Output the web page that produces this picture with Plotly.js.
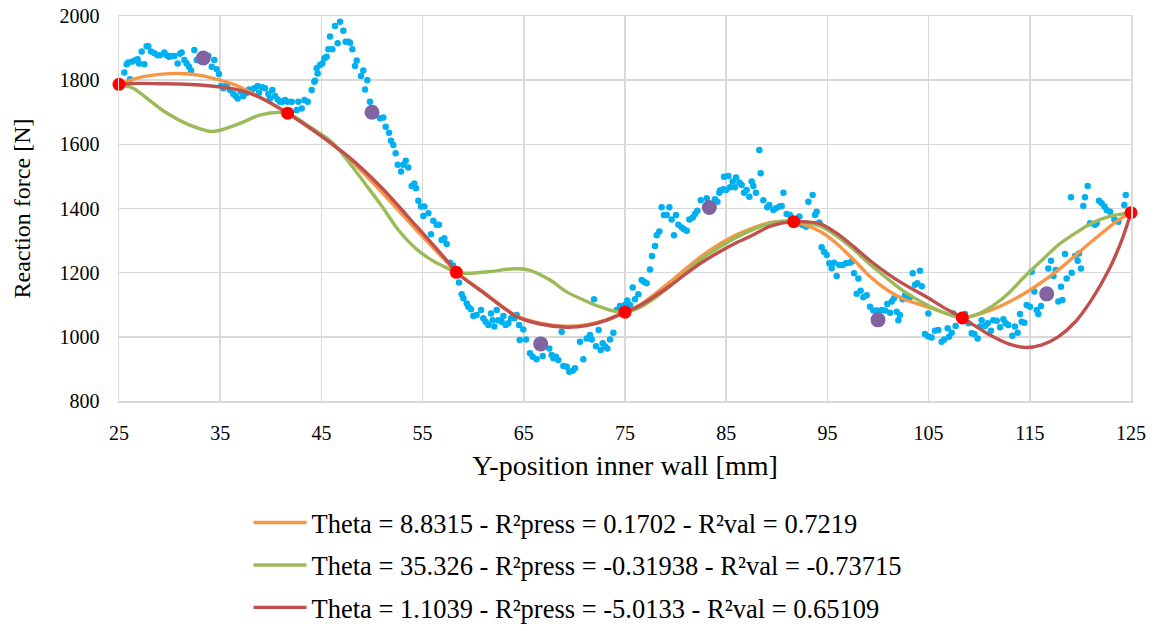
<!DOCTYPE html>
<html>
<head>
<meta charset="utf-8">
<script src="https://cdn.plot.ly/plotly-3.0.1.min.js"></script>
<style>html,body{margin:0;padding:0;background:#fff;}#chart{width:1159px;height:631px;}</style>
</head>
<body>
<div id="chart"></div>
<script>
// Measured reaction force (blue points)
const measX = [25.53,25.76,25.92,26.09,26.32,26.65,26.84,26.98,27.24,27.50,27.73,27.90,28.16,28.49,28.82,29.05,29.48,29.71,29.94,30.20,30.47,30.80,31.03,31.19,31.46,31.69,31.92,32.12,32.44,32.68,33.83,34.16,34.42,34.65,34.88,35.08,35.31,35.64,35.97,36.30,36.53,36.73,37.06,37.29,37.62,37.85,38.11,38.37,38.70,38.84,39.16,39.43,39.76,39.92,40.15,40.42,40.68,40.91,41.14,41.40,41.67,42.06,42.56,42.72,43.05,43.32,43.65,44.04,44.30,44.37,44.53,44.63,44.86,45.09,45.29,45.52,45.69,45.85,46.08,46.34,46.61,46.84,47.17,47.40,47.66,47.83,48.06,48.32,48.49,48.91,49.14,49.31,49.54,49.80,50.79,51.12,51.35,51.68,51.88,52.11,52.34,52.54,52.87,53.10,53.33,53.59,53.92,54.18,54.35,54.58,54.84,55.07,55.17,55.57,55.83,56.06,56.39,56.62,56.88,57.15,57.38,57.71,58.00,58.60,58.86,59.03,59.36,59.52,59.78,60.01,60.34,60.77,61.00,61.23,61.50,61.76,61.92,62.09,62.32,62.48,62.81,62.98,63.21,63.47,63.74,64.07,64.30,64.53,64.60,64.95,65.22,65.61,65.88,66.27,66.87,67.52,67.75,67.92,68.18,68.41,68.74,68.91,69.24,69.50,69.83,70.06,70.55,70.88,71.21,71.54,71.71,71.94,72.13,72.40,72.60,72.79,73.02,73.26,73.52,73.85,74.18,74.51,75.00,75.23,75.50,75.76,75.99,76.32,76.65,76.88,77.14,77.47,77.67,77.97,78.13,78.39,78.62,78.85,79.12,79.38,79.61,79.84,80.04,80.27,80.60,80.83,81.10,81.36,81.69,81.92,82.15,82.48,83.07,83.89,84.13,84.32,84.39,84.72,84.78,84.98,85.21,85.38,85.64,85.87,85.97,86.30,86.53,86.76,87.02,87.29,87.52,87.68,87.94,88.27,88.41,88.67,89.06,89.26,89.66,89.92,90.25,90.48,90.65,90.97,91.30,92.23,92.46,92.89,93.12,93.54,93.78,93.94,94.20,94.43,94.66,94.93,95.19,95.42,95.65,95.92,96.18,96.51,96.84,97.17,97.40,97.63,97.89,98.06,98.29,98.55,98.88,99.21,99.54,99.87,100.36,100.69,100.92,101.19,101.35,101.58,101.85,102.01,102.17,102.44,102.67,102.90,103.16,103.43,103.66,103.89,104.15,104.32,104.64,104.97,104.97,105.30,105.63,105.96,106.29,106.55,106.88,107.02,107.28,107.44,107.67,108.60,108.93,109.26,109.52,109.85,110.08,110.24,110.57,110.84,111.17,111.40,111.73,112.06,112.39,112.62,112.88,113.27,113.54,113.80,114.03,114.20,114.46,114.69,115.02,115.19,115.45,115.68,115.84,116.11,116.83,117.10,117.33,117.56,117.82,118.08,118.22,118.48,118.64,119.07,119.14,119.47,119.73,119.86,120.06,120.29,120.45,120.72,120.95,121.44,121.61,121.84,122.10,122.37,122.60,122.93,123.36,123.75,124.34,124.48];
const measY = [1824,1850,1855,1803,1858,1863,1865,1852,1889,1850,1906,1906,1889,1884,1878,1878,1886,1878,1873,1875,1875,1852,1882,1886,1863,1852,1842,1830,1894,1863,1875,1842,1863,1834,1819,1782,1775,1785,1769,1757,1751,1743,1764,1751,1761,1771,1769,1775,1782,1761,1778,1775,1757,1743,1769,1751,1740,1733,1733,1738,1733,1733,1707,1733,1712,1738,1733,1769,1795,1798,1837,1821,1847,1852,1868,1873,1896,1936,1896,1969,1915,1982,1954,1920,1920,1917,1896,1844,1861,1813,1830,1771,1800,1733,1681,1684,1655,1636,1611,1598,1572,1536,1515,1536,1549,1528,1470,1478,1463,1424,1406,1377,1406,1385,1320,1362,1349,1349,1302,1307,1289,1231,1222,1169,1133,1120,1104,1094,1086,1065,1068,1084,1058,1047,1037,1073,1052,1032,1084,1052,1047,1065,1037,1042,1058,1058,1068,1037,990,1023,992,949,938,930,940,964,943,933,938,928,1016,909,907,891,894,902,985,930,995,1006,992,1117,971,1021,959,980,971,964,992,1013,1084,1096,1099,1113,1099,1154,1117,1133,1177,1172,1167,1210,1252,1283,1317,1328,1404,1380,1380,1404,1366,1317,1380,1349,1341,1335,1331,1366,1372,1383,1393,1426,1432,1429,1421,1449,1456,1460,1499,1458,1501,1466,1484,1466,1497,1481,1473,1449,1458,1437,1484,1470,1449,1582,1510,1426,1404,1411,1395,1401,1406,1408,1449,1383,1380,1375,1349,1343,1421,1442,1380,1390,1356,1279,1265,1255,1229,1214,1231,1190,1224,1224,1229,1231,1234,1198,1134,1182,1144,1123,1130,1094,1082,1082,1084,1082,1102,1075,1110,1120,1078,1052,1068,1117,1130,1123,1123,1198,1162,1167,1206,1158,1009,1001,1073,998,1019,1021,985,992,1027,1000,1013,1073,1034,1071,1042,1011,1009,995,1032,1052,1034,1042,1019,1052,1050,1030,1055,1042,1037,1003,1032,1013,1071,1047,1044,1099,1094,1203,1141,1084,1071,1096,1213,1237,1190,1208,1110,1156,1115,1258,1182,1435,1200,1252,1237,1260,1213,1408,1435,1470,1354,1349,1354,1424,1416,1406,1395,1390,1366,1359,1411,1442];

// Training points (red) and validation points (purple)
const trainX = [25, 41.667, 58.333, 75, 91.667, 108.333, 125];
const trainY = [1787, 1697, 1201, 1077, 1359, 1059, 1387];
const valX = [33.333, 50, 66.667, 83.333, 100, 116.667];
const valY = [1869, 1700, 978, 1403, 1053, 1134];

// Kriging curves
const orangeX = [25,27,29,31,33,35,37,39,41.667,44.4,47.7,51,54.3,57.5,58.333,61,64.3,66.6,69.2,71.2,73.2,75,76.5,78,79.5,81,82.5,84.4,86,87.7,89.3,91.667,94.3,95.9,97.6,99.2,100.9,102.5,104.6,106.3,108.333,111.2,114.5,117.8,121.1,123.75,125];
const orangeY = [1787,1808,1818,1821,1815,1800,1778,1745,1697,1640,1556,1450,1336,1229,1201,1140,1065,1043,1033,1038,1054,1077,1100,1135,1172,1212,1250,1290,1318,1340,1356,1360,1328,1291,1240,1188,1146,1118,1096,1078,1060,1084,1136,1208,1297,1364,1387];
const greenX = [25,26.4,27.9,29.6,32,34.3,37,38.9,40.9,41.667,43.5,46,47.7,49.3,51,52.6,54.3,55.9,57.5,58.333,59.5,61.5,64,65.5,67.6,69.2,70.9,72.5,73.8,75,76.5,78,79.5,81,82.5,84.4,86,87.7,89.3,91.667,94.3,95.9,97.6,99.2,100.9,102.5,104.6,106.3,108.333,109.6,111.2,112.9,114.5,116.2,117.8,119.5,121.1,122.8,125];
const greenY = [1787,1775,1740,1700,1660,1640,1666,1691,1700,1697,1662,1608,1545,1478,1406,1333,1276,1239,1213,1201,1198,1203,1212,1208,1177,1141,1115,1094,1081,1077,1092,1122,1160,1200,1242,1281,1310,1335,1354,1360,1345,1315,1272,1226,1182,1143,1103,1078,1059,1068,1094,1136,1188,1239,1286,1323,1354,1375,1387];
const redX = [25,27,29,31,33,35,37,39,41.667,44.4,47.7,51,54.3,57.5,58.333,61,64.3,66.6,69.2,71.2,73.2,75,76.5,78,79.5,81,82.5,84.4,86,87.7,89.3,91.667,94.3,95.9,97.6,99.2,100.9,102.5,104.6,106.3,108.333,109.6,111.2,112.9,114.5,116.2,117.8,119.5,121.1,122.8,124.1,125];
const redY = [1787,1790,1789,1788,1785,1779,1768,1745,1697,1639,1561,1463,1348,1234,1201,1138,1063,1040,1030,1035,1052,1077,1098,1128,1160,1196,1230,1266,1293,1318,1344,1359,1352,1323,1281,1238,1198,1165,1128,1095,1059,1034,1003,978,967,975,1000,1047,1115,1208,1302,1387];

const legendNames = [
  'Theta = 8.8315 - R²press = 0.1702 - R²val = 0.7219',
  'Theta = 35.326 - R²press = -0.31938 - R²val = -0.73715',
  'Theta = 1.1039 - R²press = -5.0133 - R²val = 0.65109'
];
const xTicks = [25,35,45,55,65,75,85,95,105,115,125];
const yTicks = [800,1000,1200,1400,1600,1800,2000];

const FONT = 'Liberation Serif';

const traces = [
  {x: measX, y: measY, type: 'scatter', mode: 'markers', showlegend: false,
   marker: {color: '#00B0F0', size: 6.5}},
  {x: orangeX, y: orangeY, type: 'scatter', mode: 'lines', name: legendNames[0], legendgroup: 'a',
   line: {color: '#F79646', width: 3.4, shape: 'spline', smoothing: 0.8}},
  {x: greenX, y: greenY, type: 'scatter', mode: 'lines', name: legendNames[1], legendgroup: 'b',
   line: {color: '#9BBB59', width: 3.4, shape: 'spline', smoothing: 0.8}},
  {x: redX, y: redY, type: 'scatter', mode: 'lines', name: legendNames[2], legendgroup: 'c',
   line: {color: '#C0504D', width: 3.4, shape: 'spline', smoothing: 0.8}},
  {x: valX, y: valY, type: 'scatter', mode: 'markers', showlegend: false, cliponaxis: false,
   marker: {color: '#8064A2', size: 15}},
  {x: trainX, y: trainY, type: 'scatter', mode: 'markers', showlegend: false, cliponaxis: false,
   marker: {color: '#FF0000', size: 13}}
];

const layout = {
  width: 1159, height: 631,
  margin: {l: 119, r: 28, t: 16, b: 230, autoexpand: false},
  paper_bgcolor: '#FFFFFF', plot_bgcolor: '#FFFFFF',
  font: {family: FONT, color: '#000000', size: 20},
  xaxis: {
    range: [25, 125], tickvals: xTicks, ticktext: xTicks.map(String),
    showgrid: true, gridcolor: '#D9D9D9', gridwidth: 1.5,
    showline: true, linecolor: '#D9D9D9', linewidth: 1.5, mirror: true,
    zeroline: false, ticks: '', ticklabelstandoff: 13, automargin: false,
    tickfont: {family: FONT, size: 20, color: '#000'},
    title: {text: 'Y-position inner wall [mm]', font: {family: FONT, size: 28, color: '#000'}, standoff: 13}
  },
  yaxis: {
    range: [800, 2000], tickvals: yTicks, ticktext: yTicks.map(String),
    showgrid: true, gridcolor: '#D9D9D9', gridwidth: 1.5,
    showline: true, linecolor: '#D9D9D9', linewidth: 1.5, mirror: true,
    zeroline: false, ticks: '', ticklabelstandoff: 14, automargin: false,
    tickfont: {family: FONT, size: 20, color: '#000'},
    title: {text: 'Reaction force [N]', font: {family: FONT, size: 24, color: '#000'}, standoff: 22}
  },
  showlegend: true,
  legend: {
    x: 0.128, y: -0.254, xanchor: 'left', yanchor: 'top',
    orientation: 'v', tracegroupgap: 5, itemwidth: 53,
    font: {family: FONT, size: 26.5, color: '#000'},
    bgcolor: 'rgba(0,0,0,0)', borderwidth: 0
  }
};

Plotly.newPlot('chart', traces, layout, {displayModeBar: false, staticPlot: true});
</script>
</body>
</html>
